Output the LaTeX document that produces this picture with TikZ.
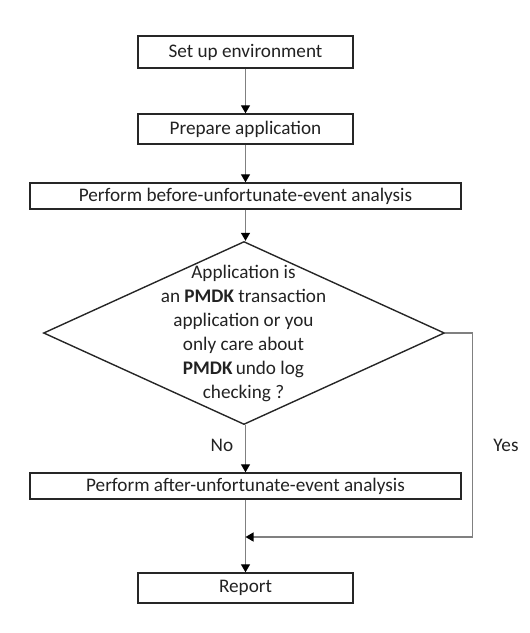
\documentclass[tikz,border=0pt]{standalone}
\usepackage{fontspec}
\setmainfont{Carlito}
\usetikzlibrary{shapes.geometric,arrows.meta}
\definecolor{txt}{HTML}{222222}
\definecolor{conn}{HTML}{808080}
\tikzset{
  stepbox/.style={draw=black!85, line width=1.4pt, fill=white, inner sep=0pt, text=txt,
    font=\fontsize{19.2}{22}\selectfont},
  decision/.style={draw=black!85, line width=1.4pt, shape=diamond, inner sep=0pt, shape aspect=2.19},
  conntext/.style={text=txt, font=\fontsize{19.2}{24}\selectfont, align=center},
  flow/.style={draw=conn, line width=1.3pt, -{Triangle[length=8pt,width=9pt,color=black]}},
}
\begin{document}
\begin{tikzpicture}[x=1pt, y=-1pt]
\useasboundingbox (0,0) rectangle (530,633);
\node[stepbox, minimum width=215pt, minimum height=32pt] (b1) at (245.5,52) {Set up environment};
\node[stepbox, minimum width=215pt, minimum height=30pt] (b2) at (245.5,129) {Prepare application};
\node[stepbox, minimum width=431pt, minimum height=26pt] (b3) at (245.5,196) {Perform before-unfortunate-event analysis};
\node[decision, minimum width=401pt, minimum height=183pt] (dia) at (244,333) {};
\node[conntext] (dtext) at (243.5,333) {Application is\\an \textbf{PMDK} transaction\\application or you\\only care about\\\textbf{PMDK}\,undo log\\checking ?};
\node[stepbox, minimum width=431pt, minimum height=26pt] (b4) at (245.5,486) {Perform after-unfortunate-event analysis};
\node[stepbox, minimum width=215pt, minimum height=30pt] (b5) at (245.5,588) {Report};
\node[conntext] (nolab) at (222,445) {No};
\node[conntext] (yeslab) at (506,445) {Yes};
\coordinate (ycorner) at (472.7,537);
\coordinate (merge) at (b4.south |- ycorner);
\draw[flow] (b1.south) -- (b2.north);
\draw[flow] (b2.south) -- (b3.north);
\draw[flow] (b3.south) -- (b3.south |- dia.north);
\draw[flow] (b3.south |- dia.south) -- (b4.north);
\draw[draw=conn, line width=1.3pt] (b4.south) -- (merge);
\draw[flow] (merge) -- (b5.north);
\draw[flow] (dia.east) -| (ycorner) -- (merge);
\end{tikzpicture}
\end{document}
